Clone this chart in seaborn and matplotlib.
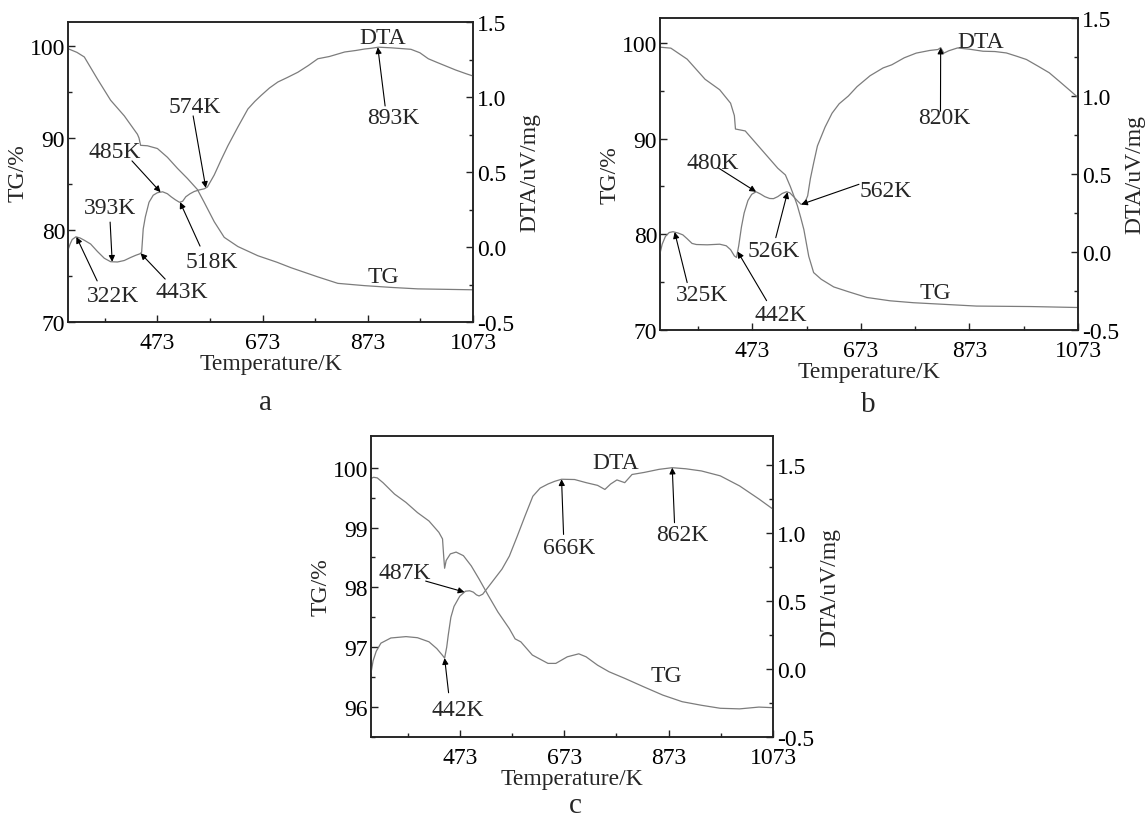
import numpy as np
import matplotlib
matplotlib.use("Agg")
import matplotlib.pyplot as plt
import seaborn as sns

# ---------------- data ----------------
a_tg_T = [303, 320, 334, 359, 384, 410, 435, 438, 441, 454, 473, 492, 511, 530, 549, 562,
          581, 600, 626, 664, 700, 727, 778, 816, 867, 920, 968, 1020, 1073]
a_tg = [99.7, 99.3, 98.8, 96.4, 94.1, 92.4, 90.4, 90.0, 89.2, 89.15, 88.85, 87.9, 86.7, 85.6,
        84.4, 83.0, 80.9, 79.2, 78.2, 77.2, 76.5, 75.9, 74.9, 74.2, 73.95, 73.75, 73.6, 73.55, 73.5]

a_dta_T = [303, 307, 311, 318, 326, 334, 346, 359, 372, 384, 397, 410, 422, 432, 440, 443,
           446, 450, 457, 465, 473, 483, 492, 499, 507, 515, 521, 527, 535, 543, 552, 562,
           568, 581, 594, 607, 626, 645, 658, 670, 686, 702, 720, 740, 760, 778, 800, 829,
           850, 867, 880, 893, 917, 940, 955, 972, 988, 1005, 1019, 1040, 1060, 1073]
a_dta = [-0.02, 0.02, 0.05, 0.068, 0.06, 0.045, 0.02, -0.03, -0.075, -0.098, -0.1, -0.09,
         -0.07, -0.055, -0.045, -0.035, 0.12, 0.2, 0.298, 0.345, 0.362, 0.368, 0.355, 0.335,
         0.315, 0.298, 0.305, 0.335, 0.355, 0.37, 0.38, 0.388, 0.4, 0.48, 0.58, 0.675, 0.8,
         0.92, 0.97, 1.01, 1.06, 1.1, 1.13, 1.165, 1.21, 1.255, 1.27, 1.3, 1.31, 1.32, 1.325,
         1.332, 1.328, 1.322, 1.318, 1.295, 1.255, 1.23, 1.21, 1.18, 1.155, 1.14]

b_tg_T = [303, 323, 353, 386, 413, 433, 440, 442, 460, 480, 500, 520, 534, 543, 551, 556,
          562, 568, 577, 586, 600, 623, 650, 684, 727, 770, 820, 886, 986, 1073]
b_tg = [99.55, 99.45, 98.3, 96.2, 95.1, 93.7, 92.4, 91.0, 90.8, 89.5, 88.2, 86.9, 86.2, 85.0,
        83.8, 83.0, 81.8, 80.5, 77.7, 76.0, 75.3, 74.5, 74.0, 73.4, 73.05, 72.85, 72.7, 72.5,
        72.45, 72.35]

b_dta_T = [303, 307, 313, 320, 327, 336, 345, 353, 362, 370, 390, 413, 425, 433, 440, 444,
           448, 453, 458, 465, 472, 480, 488, 496, 505, 512, 520, 528, 536, 542, 549, 557,
           563, 569, 575, 580, 586, 593, 600, 607, 620, 633, 650, 666, 690, 714, 730, 753,
           775, 800, 815, 820, 826, 835, 851, 873, 898, 920, 941, 960, 978, 1000, 1020, 1040,
           1060, 1073]
b_dta = [-0.01, 0.05, 0.1, 0.125, 0.13, 0.122, 0.11, 0.085, 0.055, 0.048, 0.046, 0.05, 0.04,
         0.015, -0.025, -0.035, 0.04, 0.16, 0.25, 0.33, 0.37, 0.386, 0.372, 0.355, 0.343,
         0.342, 0.355, 0.375, 0.386, 0.38, 0.355, 0.325, 0.305, 0.31, 0.36, 0.47, 0.57, 0.68,
         0.74, 0.8, 0.89, 0.95, 1.0, 1.06, 1.13, 1.18, 1.2, 1.245, 1.275, 1.292, 1.298, 1.31,
         1.275, 1.29, 1.308, 1.3, 1.287, 1.285, 1.276, 1.255, 1.234, 1.19, 1.149, 1.09, 1.03,
         0.99]

c_tg_T = [303, 308, 315, 326, 348, 370, 392, 414, 433, 440, 442, 444, 447, 455, 466, 480,
          495, 510, 528, 546, 568, 579, 590, 612, 642, 657, 679, 701, 715, 737, 759, 789,
          825, 862, 899, 936, 972, 1009, 1046, 1073]
c_tg = [99.82, 99.84, 99.83, 99.75, 99.56, 99.42, 99.25, 99.11, 98.92, 98.81, 98.55, 98.32,
        98.45, 98.56, 98.59, 98.53, 98.36, 98.14, 97.86, 97.59, 97.31, 97.14, 97.09, 96.87,
        96.73, 96.73, 96.84, 96.89, 96.84, 96.7, 96.59, 96.48, 96.34, 96.2, 96.09, 96.03,
        95.98, 95.97, 96.0, 95.99]

c_dta_T = [303, 307, 313, 322, 341, 370, 392, 414, 429, 440, 444, 448, 451, 456, 462, 473,
           484, 492, 499, 505, 510, 517, 524, 539, 554, 568, 583, 598, 613, 627, 642, 655,
           668, 693, 715, 737, 751, 762, 774, 789, 803, 826, 855, 880, 906, 936, 972, 1009,
           1046, 1073]
c_dta = [-0.03, 0.06, 0.13, 0.19, 0.228, 0.238, 0.23, 0.2, 0.15, 0.1, 0.08, 0.16, 0.25, 0.38,
         0.46, 0.535, 0.572, 0.575, 0.565, 0.545, 0.537, 0.55, 0.585, 0.66, 0.735, 0.83,
         0.975, 1.125, 1.27, 1.33, 1.36, 1.38, 1.395, 1.393, 1.37, 1.35, 1.32, 1.36, 1.39,
         1.37, 1.43, 1.445, 1.468, 1.48, 1.472, 1.456, 1.42, 1.346, 1.25, 1.175]

x_major = [473, 673, 873, 1073]
x_minor = [373, 573, 773, 973]

# annotations: label, text (axes fraction), arrow start (axes fraction), tip temperature
a_notes = [("893K", 0.802, 0.683, 0.783, 0.720, 892),
           ("574K", 0.314, 0.717, 0.309, 0.687, 565),
           ("485K", 0.116, 0.567, 0.158, 0.537, 479),
           ("393K", 0.104, 0.383, 0.104, 0.333, 387),
           ("518K", 0.356, 0.203, 0.326, 0.253, 516),
           ("322K", 0.111, 0.087, 0.072, 0.137, 319),
           ("443K", 0.281, 0.103, 0.240, 0.143, 441)]
b_notes = [("820K", 0.680, 0.680, 0.671, 0.701, 820),
           ("480K", 0.126, 0.536, 0.139, 0.520, 480),
           ("562K", 0.541, 0.446, 0.476, 0.467, 563),
           ("526K", 0.273, 0.254, 0.277, 0.296, 538),
           ("325K", 0.100, 0.115, 0.065, 0.152, 330),
           ("442K", 0.290, 0.051, 0.255, 0.094, 446)]
c_notes = [("666K", 0.493, 0.629, 0.479, 0.673, 668),
           ("862K", 0.774, 0.673, 0.755, 0.712, 880),
           ("487K", 0.084, 0.546, 0.136, 0.518, 482),
           ("442K", 0.217, 0.092, 0.193, 0.147, 444)]

# ---------------- style ----------------
sns.set_theme(style="ticks")
plt.rcParams["font.family"] = ["Liberation Serif", "DejaVu Serif"]
plt.rcParams["axes.unicode_minus"] = False

FS = 17
LINE = "#7c7c7c"
SPINE = "#222222"

fig = plt.figure(figsize=(11.46, 8.2), dpi=100)


def panel(rect, tg_T, tg, dta_T, dta, tg_lim, dta_lim, tg_major, tg_minor,
          dta_major, dta_minor, notes, dta_pos, tg_pos, letter_pos, letter):
    ax = fig.add_axes(rect)
    ax2 = ax.twinx()
    sns.lineplot(x=tg_T, y=tg, ax=ax, color=LINE, lw=0.9, estimator=None, sort=False)
    sns.lineplot(x=dta_T, y=dta, ax=ax2, color=LINE, lw=0.9, estimator=None, sort=False)
    ax.set_xlim(303, 1073)
    ax.set_ylim(*tg_lim)
    ax2.set_ylim(*dta_lim)
    ax.set_xticks(x_major)
    ax.set_xticks(x_minor, minor=True)
    ax.set_xticklabels([str(v) for v in x_major])
    ax.set_yticks(tg_major)
    ax.set_yticks(tg_minor, minor=True)
    ax.set_yticklabels(["{:.0f}".format(v) for v in tg_major])
    ax2.set_yticks(dta_major)
    ax2.set_yticks(dta_minor, minor=True)
    ax2.set_yticklabels(["{:.1f}".format(v) for v in dta_major])
    for a in (ax, ax2):
        for s in a.spines.values():
            s.set_visible(True)
            s.set_linewidth(1.1)
            s.set_color(SPINE)
        a.grid(False)
    ax.tick_params(axis="both", which="both", direction="in", colors=SPINE,
                   labelcolor="black", labelsize=FS, top=False, right=False)
    ax.tick_params(axis="both", which="major", length=5, width=1.0)
    ax.tick_params(axis="both", which="minor", length=3, width=1.0)
    ax.tick_params(axis="y", pad=2)
    ax.tick_params(axis="x", pad=7.5)
    ax2.tick_params(axis="y", which="both", direction="in", colors=SPINE,
                    labelcolor="black", labelsize=FS, left=False, right=True, pad=3)
    ax2.tick_params(axis="y", which="major", length=5, width=1.0)
    ax2.tick_params(axis="y", which="minor", length=3, width=1.0)
    ax.set_xlabel("Temperature/K", fontsize=FS, labelpad=0)
    ax.set_ylabel("TG/%", fontsize=FS, labelpad=1)
    ax2.set_ylabel("DTA/uV/mg", fontsize=FS, labelpad=3.5, rotation=90)
    ax2.text(dta_pos[0], dta_pos[1], "DTA", transform=ax2.transAxes, fontsize=FS,
             ha="center", va="center")
    ax2.text(tg_pos[0], tg_pos[1], "TG", transform=ax2.transAxes, fontsize=FS,
             ha="center", va="center")
    for lab, tx, ty, sx, sy, tip in notes:
        tip_y = float(np.interp(tip, dta_T, dta))
        ax2.text(tx, ty, lab, transform=ax2.transAxes, fontsize=FS, ha="center", va="center")
        ax2.annotate("", xy=(tip, tip_y), xycoords="data", xytext=(sx, sy),
                     textcoords="axes fraction",
                     arrowprops=dict(arrowstyle="-|>", color="black", lw=0.8,
                                     mutation_scale=9, shrinkA=0, shrinkB=0))
    fig.text(letter_pos[0], letter_pos[1], letter, fontsize=21, ha="center", va="center")
    return ax, ax2


W, H = 1146.0, 820.0


def rect(L, R, T, B):
    return [L / W, 1 - B / H, (R - L) / W, (B - T) / H]


panel(rect(68, 473, 23, 323), a_tg_T, a_tg, a_dta_T, a_dta, (70, 102.6), (-0.5, 1.5),
      [70, 80, 90, 100], [75, 85, 95], [-0.5, 0.0, 0.5, 1.0, 1.5], [-0.25, 0.25, 0.75, 1.25],
      a_notes, (0.778, 0.95), (0.778, 0.153), (265 / W, 1 - 403 / H), "a")

panel(rect(660, 1078, 19, 331), b_tg_T, b_tg, b_dta_T, b_dta, (70, 102.6), (-0.5, 1.5),
      [70, 80, 90, 100], [75, 85, 95], [-0.5, 0.0, 0.5, 1.0, 1.5], [-0.25, 0.25, 0.75, 1.25],
      b_notes, (0.766, 0.925), (0.658, 0.12), (868 / W, 1 - 405 / H), "b")

panel(rect(371, 773, 437, 738), c_tg_T, c_tg, c_dta_T, c_dta, (95.52, 100.53), (-0.5, 1.713),
      [96, 97, 98, 99, 100], [95.5, 96.5, 97.5, 98.5, 99.5],
      [-0.5, 0.0, 0.5, 1.0, 1.5], [-0.25, 0.25, 0.75, 1.25],
      c_notes, (0.608, 0.911), (0.736, 0.203), (575 / W, 1 - 806 / H), "c")

fig.savefig("out.png", dpi=100, facecolor="white")
